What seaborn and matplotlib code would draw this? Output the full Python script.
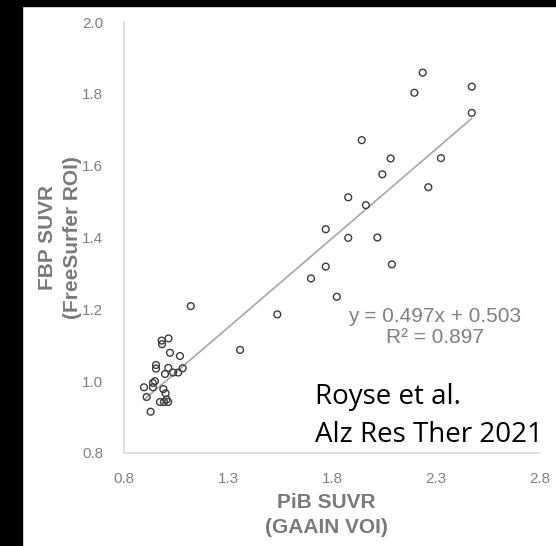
import matplotlib
matplotlib.use("Agg")
import matplotlib.pyplot as plt
import seaborn as sns
import pandas as pd
from matplotlib.patches import Rectangle

# PiB SUVR (GAAIN VOI) vs FBP SUVR (FreeSurfer ROI)
pib_suvr = [2.236, 2.196, 2.472, 2.472, 2.324, 2.263, 1.943, 2.082, 2.042, 1.878,
            1.963, 1.770, 1.878, 2.018, 2.088, 1.770, 1.699, 1.823, 1.537, 1.121,
            1.358, 1.014, 0.981, 0.983, 1.021, 1.069, 0.954, 0.954, 1.013, 0.997,
            1.036, 1.061, 1.082, 0.949, 0.939, 0.896, 0.939, 0.989, 1.000, 0.909,
            0.973, 0.992, 1.012, 1.005, 0.928]
fbp_suvr = [1.859, 1.803, 1.820, 1.747, 1.621, 1.540, 1.671, 1.620, 1.576, 1.512,
            1.490, 1.423, 1.399, 1.400, 1.325, 1.319, 1.286, 1.235, 1.186, 1.209,
            1.087, 1.119, 1.113, 1.103, 1.079, 1.070, 1.045, 1.035, 1.037, 1.020,
            1.024, 1.024, 1.036, 1.000, 0.995, 0.983, 0.983, 0.978, 0.966, 0.956,
            0.942, 0.942, 0.942, 0.949, 0.915]

fit_slope = 0.497
fit_intercept = 0.503
r_squared = 0.897

x_ticks = [0.8, 1.3, 1.8, 2.3, 2.8]
y_ticks = [0.8, 1.0, 1.2, 1.4, 1.6, 1.8, 2.0]

df = pd.DataFrame({"pib": pib_suvr, "fbp": fbp_suvr})

sns.set_style("white")
plt.rcParams["font.family"] = ["Liberation Sans", "DejaVu Sans"]

fig = plt.figure(figsize=(5.56, 5.46), dpi=100)
ax = fig.add_axes([124 / 556, 1 - 453 / 546, 416 / 556, 431 / 546])

# black frame strips from the screenshot
fig.patches.append(Rectangle((0, 0), 22 / 556, 1, transform=fig.transFigure,
                             color="black", zorder=0))
fig.patches.append(Rectangle((0, 1 - 6 / 546), 1, 6 / 546, transform=fig.transFigure,
                             color="black", zorder=0))

# trendline over the data range
xmin, xmax = min(pib_suvr), max(pib_suvr)
line_df = pd.DataFrame({"pib": [xmin, xmax],
                        "fbp": [fit_slope * xmin + fit_intercept,
                                fit_slope * xmax + fit_intercept]})
sns.lineplot(data=line_df, x="pib", y="fbp", ax=ax, color="#a6a6a6", lw=1.2, zorder=2)

sns.scatterplot(data=df, x="pib", y="fbp", ax=ax, s=24, facecolor="none",
                edgecolor="#3c3c3c", linewidth=1.0, zorder=3)

ax.set_xlim(0.8, 2.8)
ax.set_ylim(0.8, 2.0)
ax.set_xticks(x_ticks)
ax.set_yticks(y_ticks)
ax.set_xticklabels([f"{v:.1f}" for v in x_ticks])
ax.set_yticklabels([f"{v:.1f}" for v in y_ticks])
ax.tick_params(axis="both", length=0, labelsize=11, labelcolor="#808080")
ax.tick_params(axis="y", pad=15)
ax.tick_params(axis="x", pad=14)

sns.despine(ax=ax)
for side in ["left", "bottom"]:
    ax.spines[side].set_color("#d9d9d9")
    ax.spines[side].set_linewidth(1.2)

ax.set_xlabel("PiB SUVR\n(GAAIN VOI)", fontsize=15, fontweight="bold",
              color="#7a7a7a", linespacing=1.45)
ax.set_ylabel("FBP SUVR\n(FreeSurfer ROI)", fontsize=15, fontweight="bold",
              color="#7a7a7a", linespacing=1.45)
ax.xaxis.label.set_va("center")
ax.yaxis.label.set_va("center")
ax.xaxis.set_label_coords((326 - 124) / 416, (453 - 515) / 431)
ax.yaxis.set_label_coords((60 - 124) / 416, 0.5)

ax.text((435 - 124) / 416, (453 - 327) / 431,
        f"y = {fit_slope:.3f}x + {fit_intercept:.3f}\nR² = {r_squared:.3f}",
        transform=ax.transAxes, ha="center", va="center", fontsize=15,
        color="#808080", linespacing=1.15)

ax.text((315 - 124) / 416, (453 - 416) / 431, "Royse et al.\nAlz Res Ther 2021",
        transform=ax.transAxes, ha="left", va="center", fontsize=20,
        color="black", family=["Open Sans", "DejaVu Sans"], linespacing=1.5)

fig.savefig("out.png", dpi=100)
